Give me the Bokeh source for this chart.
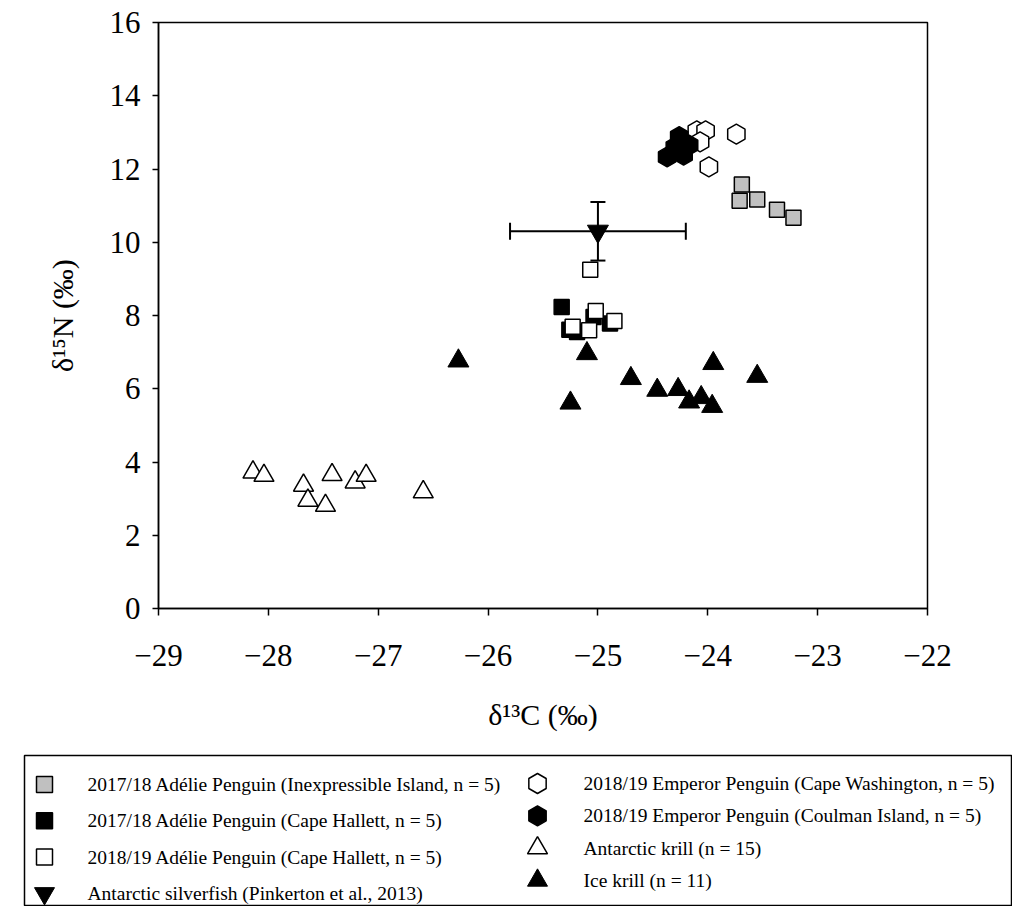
from bokeh.plotting import figure
from bokeh.models import Range1d, FixedTicker, ColumnDataSource, Whisker, TeeHead
from bokeh.core.properties import value
from bokeh.embed import file_html
from bokeh.resources import INLINE
import math

FONT = "Liberation Serif"

# ---------------- axes ----------------
x_ticks = [-29, -28, -27, -26, -25, -24, -23, -22]
x_tick_labels = ["\u221229", "\u221228", "\u221227", "\u221226", "\u221225", "\u221224", "\u221223", "\u221222"]
y_ticks = [0, 2, 4, 6, 8, 10, 12, 14, 16]
y_tick_labels = ["0", "2", "4", "6", "8", "10", "12", "14", "16"]
x_title = "\u03b4\u00b9\u00b3C (\u2030)"
y_title = "\u03b4\u00b9\u2075N (\u2030)"

# ---------------- data ----------------
# 2017/18 Adelie Penguin (Inexpressible Island)
adie_ii_x = [-23.69, -23.71, -23.55, -23.37, -23.22]
adie_ii_y = [11.58, 11.13, 11.17, 10.89, 10.67]
# 2017/18 Adelie Penguin (Cape Hallett)
adie_ch17_x = [-25.33, -25.26, -25.19, -25.04, -24.89]
adie_ch17_y = [8.23, 7.61, 7.55, 7.96, 7.78]
# 2018/19 Adelie Penguin (Cape Hallett)
adie_ch18_x = [-25.07, -25.23, -25.02, -25.08, -24.85]
adie_ch18_y = [9.25, 7.69, 8.12, 7.60, 7.85]
# Antarctic silverfish (mean +/- sd)
silver_x = [-25.0]
silver_y = [10.3]
silver_xerr = [0.8]
silver_yerr = [0.8]
# 2018/19 Emperor Penguin (Cape Washington)
emp_cw_x = [-24.10, -24.02, -23.74, -23.99, -24.07]
emp_cw_y = [13.04, 13.04, 12.95, 12.06, 12.74]
# 2018/19 Emperor Penguin (Coulman Island)
emp_ci_x = [-24.26, -24.37, -24.22, -24.17, -24.30]
emp_ci_y = [12.88, 12.33, 12.38, 12.65, 12.60]
# Antarctic krill
akrill_x = [-28.14, -28.04, -27.68, -27.64, -27.48, -27.42, -27.21, -27.11, -26.59]
akrill_y = [3.72, 3.63, 3.36, 2.95, 2.81, 3.65, 3.45, 3.63, 3.18]
# Ice krill
ikrill_x = [-26.27, -25.10, -25.25, -24.70, -24.46, -24.27, -24.17, -24.06, -23.96, -23.95, -23.55]
ikrill_y = [6.76, 6.96, 5.61, 6.28, 5.96, 5.98, 5.64, 5.76, 5.52, 6.69, 6.34]

labels = [
    "2017/18 Ad\u00e9lie Penguin (Inexpressible  Island, n = 5)",
    "2017/18 Ad\u00e9lie Penguin (Cape Hallett, n = 5)",
    "2018/19 Ad\u00e9lie Penguin (Cape Hallett, n = 5)",
    "Antarctic silverfish (Pinkerton et al., 2013)",
    "2018/19 Emperor Penguin (Cape Washington, n = 5)",
    "2018/19 Emperor Penguin (Coulman Island, n = 5)",
    "Antarctic krill (n = 15)",
    "Ice krill (n = 11)",
]

# ---------------- styles ----------------
styles = [
    dict(marker="square", size=15, fill_color="#c0c0c0", line_color="black", line_width=1.5),
    dict(marker="square", size=15, fill_color="black", line_color="black", line_width=1.5),
    dict(marker="square", size=15, fill_color="white", line_color="black", line_width=1.5),
    dict(marker="inverted_triangle", size=21, fill_color="black", line_color="black", line_width=1),
    dict(marker="hex", size=20, fill_color="white", line_color="black", line_width=1.5),
    dict(marker="hex", size=20, fill_color="black", line_color="black", line_width=1.5),
    dict(marker="triangle", size=20, fill_color="white", line_color="black", line_width=1.5),
    dict(marker="triangle", size=21, fill_color="black", line_color="black", line_width=1),
]
legend_sizes = [16, 16, 16, 20, 20, 20, 20, 20]

# ---------------- main plot ----------------
p = figure(width=1012, height=748, x_range=Range1d(-29, -22), y_range=Range1d(0, 16),
           toolbar_location=None, output_backend="svg",
           min_border_left=158, min_border_right=85, min_border_top=22, min_border_bottom=140)
p.grid.visible = False
p.outline_line_color = "black"
p.outline_line_width = 1.5
p.background_fill_color = "white"
p.border_fill_color = "white"

for ax in (p.xaxis[0], p.yaxis[0]):
    ax.axis_line_color = "black"
    ax.axis_line_width = 1.5
    ax.major_tick_line_color = "black"
    ax.major_tick_line_width = 1.5
    ax.major_tick_in = 0
    ax.minor_tick_line_color = None
    ax.major_label_text_font = FONT
    ax.major_label_text_font_size = "31px"
    ax.major_label_text_color = "black"
    ax.axis_label_text_font = FONT
    ax.axis_label_text_font_size = "30px"
    ax.axis_label_text_font_style = "normal"
    ax.axis_label_text_color = "black"

p.xaxis.ticker = FixedTicker(ticks=x_ticks)
p.xaxis.major_label_overrides = dict(zip(x_ticks, x_tick_labels))
p.xaxis.major_tick_out = 7
p.xaxis.major_label_standoff = 29
p.xaxis.axis_label = x_title
p.xaxis.axis_label_standoff = 29

p.yaxis.ticker = FixedTicker(ticks=y_ticks)
p.yaxis.major_label_overrides = dict(zip(y_ticks, y_tick_labels))
p.yaxis.major_tick_out = 6
p.yaxis.major_label_standoff = 12
p.yaxis.axis_label = y_title
p.yaxis.axis_label_standoff = 28

# error bars for silverfish
err_src = ColumnDataSource(dict(
    x=silver_x, y=silver_y,
    xl=[a - e for a, e in zip(silver_x, silver_xerr)],
    xu=[a + e for a, e in zip(silver_x, silver_xerr)],
    yl=[a - e for a, e in zip(silver_y, silver_yerr)],
    yu=[a + e for a, e in zip(silver_y, silver_yerr)],
))
wx = Whisker(source=err_src, base="y", lower="xl", upper="xu", dimension="width",
             line_color="black", line_width=2, level="underlay",
             lower_head=TeeHead(size=17, line_width=2, line_color="black"),
             upper_head=TeeHead(size=17, line_width=2, line_color="black"))
wy = Whisker(source=err_src, base="x", lower="yl", upper="yu", dimension="height",
             line_color="black", line_width=2, level="underlay",
             lower_head=TeeHead(size=15, line_width=2, line_color="black"),
             upper_head=TeeHead(size=15, line_width=2, line_color="black"))
p.add_layout(wx)
p.add_layout(wy)

series = [
    (adie_ii_x, adie_ii_y),
    (adie_ch17_x, adie_ch17_y),
    (adie_ch18_x, adie_ch18_y),
    (silver_x, silver_y),
    (emp_cw_x, emp_cw_y),
    (emp_ci_x, emp_ci_y),
    (akrill_x, akrill_y),
    (ikrill_x, ikrill_y),
]
for k, (xs, ys) in enumerate(series):
    st = styles[k]
    ang = math.pi / 2 if st["marker"] == "hex" else 0
    p.scatter(x=xs, y=ys, angle=ang, **st)

# ---------------- legend panel (pixel-unit frame) ----------------
LW, LH = 987, 151
p2 = figure(width=1012, height=158, x_range=Range1d(0, LW), y_range=Range1d(LH, 0),
            x_axis_type=None, y_axis_type=None, toolbar_location=None, output_backend="svg",
            min_border_left=24, min_border_right=1, min_border_top=7, min_border_bottom=0)
p2.outline_line_color = "black"
p2.outline_line_width = 1.5
p2.background_fill_color = "white"
p2.border_fill_color = "white"

col_marker_x = [20, 513]
col_text_x = [63, 559]
col_first_y = [29, 28]
col_pitch = [36.3, 32.3]
leg = dict(x=[], y=[], tx=[], marker=[], size=[], fill=[], lw=[], angle=[], text=[])
for k, lab in enumerate(labels):
    c, rrow = divmod(k, 4)
    yy = col_first_y[c] + rrow * col_pitch[c]
    leg["x"].append(col_marker_x[c])
    leg["tx"].append(col_text_x[c])
    leg["y"].append(yy)
    leg["marker"].append(styles[k]["marker"])
    leg["size"].append(legend_sizes[k])
    leg["fill"].append(styles[k]["fill_color"])
    leg["lw"].append(styles[k]["line_width"])
    leg["angle"].append(math.pi / 2 if styles[k]["marker"] == "hex" else 0)
    leg["text"].append(lab)
lsrc = ColumnDataSource(leg)
p2.scatter(x="x", y="y", marker="marker", size="size", fill_color="fill", line_color="black",
           line_width="lw", angle="angle", source=lsrc)
p2.text(x="tx", y="y", text="text", source=lsrc, text_font=value(FONT), text_font_size="19.5px",
        text_baseline="middle", text_align="left", text_color="black")

open("out.html", "w").write(file_html([p, p2], INLINE))
